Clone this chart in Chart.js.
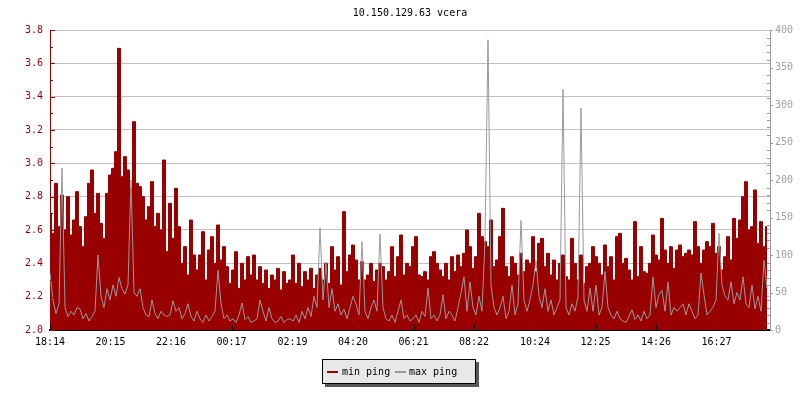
<!DOCTYPE html>
<html>
<head>
<meta charset="utf-8">
<script src="https://cdn.jsdelivr.net/npm/chart.js@4.4.1/dist/chart.umd.min.js"></script>
<style>
  body { margin: 0; background: #fff; }
  #wrap { position: relative; width: 800px; height: 400px; font-family: 'DejaVu Sans Mono', monospace; font-size: 10px; }
  #legend { position: absolute; left: 322px; top: 359px; width: 152px; height: 23px; background: #e8e8e8; border: 1px solid #000; box-shadow: 3px 3px 0 #585858; }
  #legend span { position: absolute; top: 6px; line-height: 11px; color: #000; white-space: pre; }
  #legend i { position: absolute; top: 11px; width: 11px; height: 2px; }
</style>
</head>
<body>
<div id="wrap">
  <canvas id="chart" width="800" height="400"></canvas>
  <div id="legend">
    <i style="left:4px;background:#990000"></i><span style="left:19px">min ping</span>
    <i style="left:72px;background:#999999"></i><span style="left:86px">max ping</span>
  </div>
</div>
<script>
const titleText = '10.150.129.63 vcera';
const startTime = '18:14';
const stepMinutes = 6;

const tickLabels = ['18:14', '20:15', '22:16', '00:17', '02:19', '04:20', '06:21', '08:22', '10:24', '12:25', '14:26', '16:27'];

// min ping (left axis)
const minPing = [
  2.70, 2.58, 2.88, 2.62, 2.81, 2.60, 2.80, 2.57, 2.66, 2.83,
  2.62, 2.50, 2.68, 2.88, 2.96, 2.70, 2.82, 2.64, 2.55, 2.82,
  2.93, 2.97, 3.07, 3.69, 2.92, 3.04, 2.96, 2.85, 3.25, 2.88,
  2.86, 2.80, 2.66, 2.74, 2.89, 2.62, 2.70, 2.60, 3.02, 2.47,
  2.76, 2.55, 2.85, 2.62, 2.40, 2.50, 2.33, 2.66, 2.45, 2.36,
  2.45, 2.59, 2.30, 2.48, 2.56, 2.40, 2.63, 2.42, 2.50, 2.38,
  2.28, 2.36, 2.47, 2.25, 2.40, 2.30, 2.44, 2.33, 2.45, 2.30,
  2.38, 2.28, 2.36, 2.25, 2.33, 2.30, 2.37, 2.24, 2.35, 2.28,
  2.30, 2.45, 2.28, 2.40, 2.26, 2.35, 2.30, 2.37, 2.25, 2.33,
  2.37, 2.30, 2.40, 2.28, 2.50, 2.36, 2.44, 2.27, 2.71, 2.35,
  2.45, 2.51, 2.42, 2.30, 2.41, 2.30, 2.33, 2.40, 2.29, 2.36,
  2.40, 2.38, 2.30, 2.35, 2.50, 2.32, 2.44, 2.57, 2.33, 2.40,
  2.38, 2.50, 2.56, 2.33, 2.32, 2.35, 2.30, 2.44, 2.47, 2.40,
  2.36, 2.32, 2.40, 2.30, 2.44, 2.35, 2.45, 2.38, 2.46, 2.60,
  2.50, 2.37, 2.44, 2.70, 2.56, 2.53, 2.50, 2.66, 2.38, 2.42,
  2.56, 2.73, 2.38, 2.32, 2.44, 2.40, 2.33, 2.46, 2.35, 2.42,
  2.40, 2.56, 2.35, 2.52, 2.55, 2.38, 2.46, 2.33, 2.42, 2.30,
  2.40, 2.45, 2.32, 2.30, 2.55, 2.40, 2.30, 2.45, 2.28, 2.38,
  2.40, 2.50, 2.44, 2.40, 2.33, 2.51, 2.38, 2.44, 2.30, 2.56,
  2.58, 2.40, 2.43, 2.36, 2.30, 2.65, 2.32, 2.50, 2.35, 2.34,
  2.40, 2.57, 2.45, 2.42, 2.67, 2.48, 2.40, 2.50, 2.37, 2.48,
  2.51, 2.44, 2.46, 2.48, 2.45, 2.65, 2.50, 2.40, 2.48, 2.53,
  2.50, 2.64, 2.46, 2.50, 2.36, 2.44, 2.56, 2.42, 2.67, 2.55,
  2.66, 2.80, 2.89, 2.60, 2.62, 2.84, 2.52, 2.65, 2.50, 2.62
];

// max ping (right axis, ms)
const maxPing = [
  76, 40, 22, 35, 216, 30, 18, 25, 20, 30,
  28, 15, 22, 12, 18, 25, 100, 45, 30, 55,
  40, 60, 45, 70, 55, 48, 60, 200, 50, 45,
  55, 30, 20, 18, 40, 22, 15, 25, 20, 18,
  20, 39, 25, 30, 15, 22, 35, 18, 12, 25,
  15, 10, 20, 12, 18, 25, 80, 35, 15, 20,
  12, 15, 10, 20, 36, 14, 18, 10, 12, 15,
  40, 25, 12, 30, 15, 10, 12, 18, 10, 14,
  15, 12, 20, 10, 25, 15, 30, 18, 45, 30,
  136, 40, 90, 30, 55, 25, 35, 20, 28, 15,
  30, 45, 35, 20, 118, 25, 15, 30, 40, 25,
  128, 30, 15, 12, 20, 10, 25, 40, 15, 20,
  12, 15, 20, 10, 25, 18, 56, 15, 20, 12,
  20, 47, 15, 25, 20, 12, 30, 49, 71, 25,
  64, 30, 20, 45, 25, 120, 387, 60, 30, 20,
  30, 45, 15, 25, 60, 20, 35, 146, 40, 25,
  40, 60, 93, 45, 30, 55, 25, 40, 20, 30,
  40, 321, 30, 20, 35, 25, 45, 296, 40, 25,
  56, 25, 60, 20, 30, 78, 30, 20, 15, 25,
  15, 12, 10, 18, 27, 14, 20, 12, 25, 15,
  20, 71, 30, 47, 53, 25, 64, 20, 30, 25,
  30, 35, 20, 35, 25, 15, 20, 76, 47, 20,
  25, 30, 40, 129, 60, 45, 40, 64, 35, 50,
  40, 71, 35, 30, 60, 28, 45, 25, 93, 56
];

const RED = '#990000';
const GRAY = '#999999';

function toMinutes(hhmm) {
  const [h, m] = hhmm.split(':').map(Number);
  return h * 60 + m;
}

// minutes elapsed since the first label, wrapping past midnight
const t0 = toMinutes(startTime);
const tickMinutes = tickLabels.map((l) => (toMinutes(l) - t0 + 1440) % 1440);

const minPoints = minPing.map((v, i) => ({ x: i * stepMinutes, y: v }));
const maxPoints = maxPing.map((v, i) => ({ x: i * stepMinutes, y: v }));

Chart.defaults.font.family = "'DejaVu Sans Mono', monospace";
Chart.defaults.font.size = 10;
Chart.defaults.animation = false;

const titlePlugin = {
  id: 'centerTitle',
  afterDraw(chart) {
    const { ctx, chartArea } = chart;
    ctx.save();
    ctx.fillStyle = '#000';
    ctx.textAlign = 'center';
    ctx.textBaseline = 'middle';
    ctx.fillText(titleText, (chartArea.left + chartArea.right) / 2, 13);
    ctx.restore();
  }
};

// small inward tick marks, rrdtool style
const tickMarks = {
  id: 'tickMarks',
  afterDraw(chart) {
    const { ctx, chartArea: a, scales } = chart;
    ctx.save();
    ctx.lineWidth = 1;
    ctx.strokeStyle = RED;
    for (let k = 20; k <= 38; k++) {
      const py = Math.round(scales.y.getPixelForValue(k / 10)) + 0.5;
      ctx.beginPath();
      ctx.moveTo(a.left, py);
      ctx.lineTo(a.left + (k % 2 ? 3 : 5), py);
      ctx.stroke();
    }
    ctx.strokeStyle = GRAY;
    for (let v = 0; v <= 400; v += 10) {
      const py = Math.round(scales.y2.getPixelForValue(v)) + 0.5;
      ctx.beginPath();
      if (v % 50) {
        ctx.moveTo(a.right - 3, py);
        ctx.lineTo(a.right, py);
      } else {
        ctx.moveTo(a.right, py);
        ctx.lineTo(a.right + 3, py);
      }
      ctx.stroke();
    }
    ctx.strokeStyle = '#000';
    tickMinutes.forEach((m) => {
      const px = Math.round(scales.x.getPixelForValue(m)) + 0.5;
      ctx.beginPath();
      ctx.moveTo(px, a.bottom);
      ctx.lineTo(px, a.bottom - 5);
      ctx.stroke();
    });
    ctx.restore();
  }
};

new Chart(document.getElementById('chart'), {
  type: 'line',
  data: {
    datasets: [
      {
        label: 'min ping',
        data: minPoints,
        yAxisID: 'y',
        borderColor: RED,
        backgroundColor: RED,
        borderWidth: 1,
        pointRadius: 0,
        stepped: 'middle',
        fill: 'start',
        order: 2,
      },
      {
        label: 'max ping',
        data: maxPoints,
        yAxisID: 'y2',
        borderColor: GRAY,
        borderWidth: 1,
        pointRadius: 0,
        tension: 0,
        fill: false,
        order: 1,
      }
    ]
  },
  options: {
    responsive: false,
    layout: { padding: { top: 30, left: 0, right: 0, bottom: 0 } },
    plugins: { legend: { display: false }, tooltip: { enabled: false }, title: { display: false } },
    scales: {
      x: {
        type: 'linear',
        min: 0,
        max: 1440,
        afterBuildTicks: (scale) => { scale.ticks = tickMinutes.map((v) => ({ value: v })); },
        afterFit: (scale) => { scale.height = 70; },
        ticks: {
          autoSkip: false,
          maxRotation: 0,
          padding: 6,
          color: '#000',
          callback: (v, i) => tickLabels[i],
        },
        grid: { display: false, drawTicks: false },
        border: { color: '#000', width: 2 },
      },
      y: {
        position: 'left',
        min: 2.0,
        max: 3.8,
        afterFit: (scale) => { scale.width = 50; },
        ticks: { stepSize: 0.2, color: RED, padding: 7, callback: (v) => v.toFixed(1) },
        grid: { color: '#c0c0c0', drawTicks: false },
        border: { color: RED, width: 1 },
      },
      y2: {
        position: 'right',
        min: 0,
        max: 400,
        afterFit: (scale) => { scale.width = 30; },
        ticks: { stepSize: 50, color: '#a0a0a0', padding: 5 },
        grid: { display: false, drawTicks: false },
        border: { color: GRAY, width: 1 },
      }
    }
  },
  plugins: [titlePlugin, tickMarks]
});
</script>
</body>
</html>
